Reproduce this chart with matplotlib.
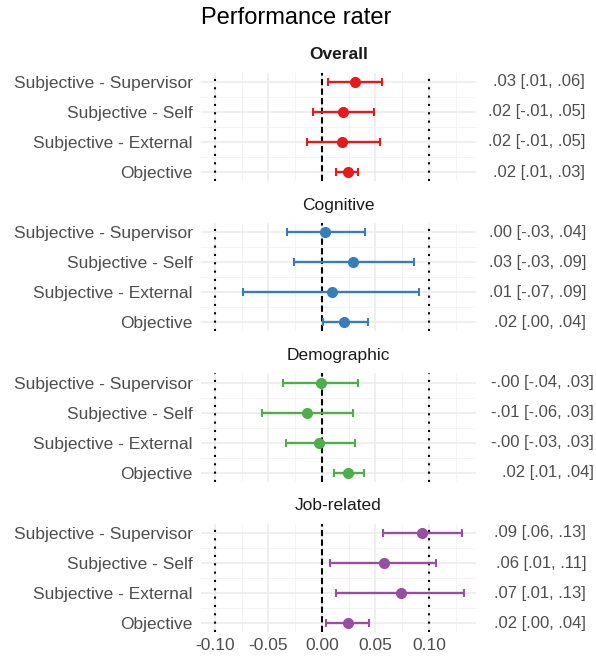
import matplotlib
matplotlib.use("Agg")
import matplotlib.pyplot as plt

plt.rcParams['font.family'] = ['Liberation Sans', 'DejaVu Sans']

# meta-analytic estimates by rater source, per predictor domain
raters = ["Subjective - Supervisor", "Subjective - Self",
          "Subjective - External", "Objective"]
domains = ["Overall", "Cognitive", "Demographic", "Job-related"]
colors = ["#E41A1C", "#377EB8", "#4DAF4A", "#984EA3"]

est_overall = [0.031, 0.020, 0.019, 0.024]
lo_overall = [0.006, -0.008, -0.014, 0.013]
hi_overall = [0.056, 0.049, 0.054, 0.034]

est_cognitive = [0.003, 0.029, 0.009, 0.021]
lo_cognitive = [-0.033, -0.026, -0.074, 0.001]
hi_cognitive = [0.040, 0.086, 0.091, 0.043]

est_demographic = [-0.001, -0.014, -0.003, 0.024]
lo_demographic = [-0.036, -0.056, -0.034, 0.011]
hi_demographic = [0.034, 0.029, 0.031, 0.039]

est_job = [0.094, 0.058, 0.074, 0.024]
lo_job = [0.057, 0.008, 0.013, 0.004]
hi_job = [0.131, 0.107, 0.133, 0.044]

estimates = [est_overall, est_cognitive, est_demographic, est_job]
lowers = [lo_overall, lo_cognitive, lo_demographic, lo_job]
uppers = [hi_overall, hi_cognitive, hi_demographic, hi_job]

xticks = [-0.10, -0.05, 0.00, 0.05, 0.10]
xminor = [-0.075, -0.025, 0.025, 0.075, 0.125]


def fmt(v):
    s = "{:.2f}".format(v)
    return s.replace("0.", ".", 1)


W, H = 596, 660
fig = plt.figure(figsize=(W / 100, H / 100), dpi=100)

row0, facet_step, row_step, pad = 81.7, 150.4, 30.1, 0.3
left_px, width_px = 201, 275
text_grey = "#4D4D4D"
fs = 12.5
# right edge of the estimate column for each facet (pixels)
label_right = [585, 586, 594, 586]

fig.text(left_px / W, 1 - 18 / H, "Performance rater", ha="left", va="center",
         fontsize=17, color="black")

for i, dom in enumerate(domains):
    top = row0 + i * facet_step - pad * row_step
    bottom = row0 + i * facet_step + (3 + pad) * row_step
    ax = fig.add_axes([left_px / W, 1 - bottom / H, width_px / W, (bottom - top) / H])
    ax.set_xlim(-0.113, 0.144)
    ax.set_ylim(3 + pad, -pad)

    ax.set_xticks(xticks)
    ax.set_xticks(xminor, minor=True)
    ax.set_yticks(range(len(raters)))
    ax.set_yticks([0.5, 1.5, 2.5], minor=True)
    ax.grid(which="major", color="#EBEBEB", lw=1.1, zorder=0)
    ax.grid(which="minor", color="#F2F2F2", lw=0.6, zorder=0)
    ax.set_axisbelow(True)
    for sp in ax.spines.values():
        sp.set_visible(False)
    ax.tick_params(which="both", length=0)
    ax.set_yticklabels(raters, fontsize=fs, color=text_grey)
    ax.tick_params(axis="y", pad=6)
    if i == len(domains) - 1:
        ax.set_xticklabels(["{:.2f}".format(t) for t in xticks],
                           fontsize=fs, color=text_grey)
        ax.tick_params(axis="x", pad=4)
    else:
        ax.set_xticklabels([])

    ax.axvline(0, color="black", lw=1.5, ls=(0, (3, 1.6)), zorder=2)
    for xv in (-0.10, 0.10):
        ax.axvline(xv, color="black", lw=1.5, ls=(0, (1, 3)), zorder=2)

    est, lo, hi = estimates[i], lowers[i], uppers[i]
    ys = list(range(len(raters)))
    xerr = [[e - l for e, l in zip(est, lo)], [h - e for e, h in zip(est, hi)]]
    ax.errorbar(est, ys, xerr=xerr, fmt="o", color=colors[i], ms=7,
                elinewidth=1.7, capsize=3.2, capthick=1.5, zorder=3)

    fig.text((left_px + width_px / 2) / W, 1 - (row0 + i * facet_step - 27) / H,
             dom, ha="center", va="center", fontsize=fs,
             color="#1A1A1A", fontweight="bold" if i == 0 else "normal")

    for r in range(len(raters)):
        lab = "{} [{}, {}]".format(fmt(est[r]), fmt(lo[r]), fmt(hi[r]))
        fig.text(label_right[i] / W, 1 - (row0 + i * facet_step + r * row_step) / H,
                 lab, ha="right", va="center", fontsize=12, color=text_grey)

fig.savefig("out.png", dpi=100)
